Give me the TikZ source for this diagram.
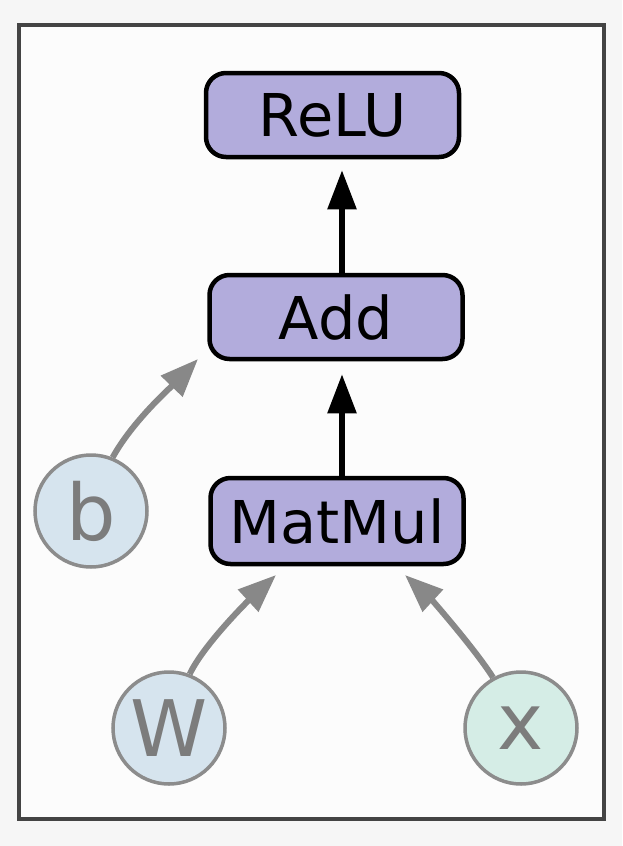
\documentclass[tikz,border=0pt]{standalone}
\usepackage{fontspec}
\setmainfont{DejaVu Sans}
\usetikzlibrary{arrows.meta}
\definecolor{bgout}{HTML}{F6F6F6}
\definecolor{bgin}{HTML}{FCFCFC}
\definecolor{frame}{HTML}{444444}
\definecolor{opfill}{HTML}{B2ACDC}
\definecolor{varline}{HTML}{8C8C8C}
\definecolor{vartext}{HTML}{7C7C7C}
\definecolor{bluefill}{HTML}{D6E4EE}
\definecolor{tealfill}{HTML}{D5EDE6}
\definecolor{arrowgray}{HTML}{888888}
\tikzset{
  opbox/.style={draw=black, line width=4.5pt, fill=opfill, rounded corners=20pt,
    minimum width=253pt, minimum height=84pt, inner sep=0pt,
    font=\fontsize{59}{70}\selectfont, text=black},
  varnode/.style={circle, draw=varline, line width=3.5pt, minimum size=112pt,
    inner sep=0pt, font=\fontsize{78}{90}\selectfont, text=vartext},
  blackarrow/.style={line width=5.5pt, draw=black,
    -{Triangle[length=39pt,width=28pt]}},
  grayarrow/.style={line width=6pt, draw=arrowgray,
    -{Triangle[length=38pt,width=29pt]}}
}
\begin{document}
\begin{tikzpicture}[x=1pt,y=-1pt]
\useasboundingbox (0,0) rectangle (622,846);
\fill[bgout] (0,0) rectangle (622,846);
\draw[frame, line width=4pt, fill=bgin] (18.5,24.5) rectangle (604,818.5);

\node[opbox] (relu) at (332.5,115) {ReLU};
\node[opbox] (add) at (336,317) {Add};
\node[opbox, minimum height=86pt] (matmul) at (337,521) {MatMul};

\node[varnode, fill=bluefill] (b) at (91,511) {b};
\node[varnode, fill=bluefill] (w) at (169,728) {W};
\node[varnode, fill=tealfill] (x) at (521,728) {x};

\coordinate (ax) at (342,0);
\draw[blackarrow, shorten >=11pt] (add.north -| ax) -- (relu.south -| ax);
\draw[blackarrow, shorten >=13pt] (matmul.north -| ax) -- (add.south -| ax);

\coordinate (bt) at (198,359);
\coordinate (wt) at (276,575);
\coordinate (xt) at (405,575);
\draw[grayarrow] (b.68) .. controls (132,422) and (170,388) .. (bt);
\draw[grayarrow] (w.69) .. controls (204,644) and (250,599) .. (wt);
\draw[grayarrow] (x.119) .. controls (475,649) and (431,599) .. (xt);
\end{tikzpicture}
\end{document}
